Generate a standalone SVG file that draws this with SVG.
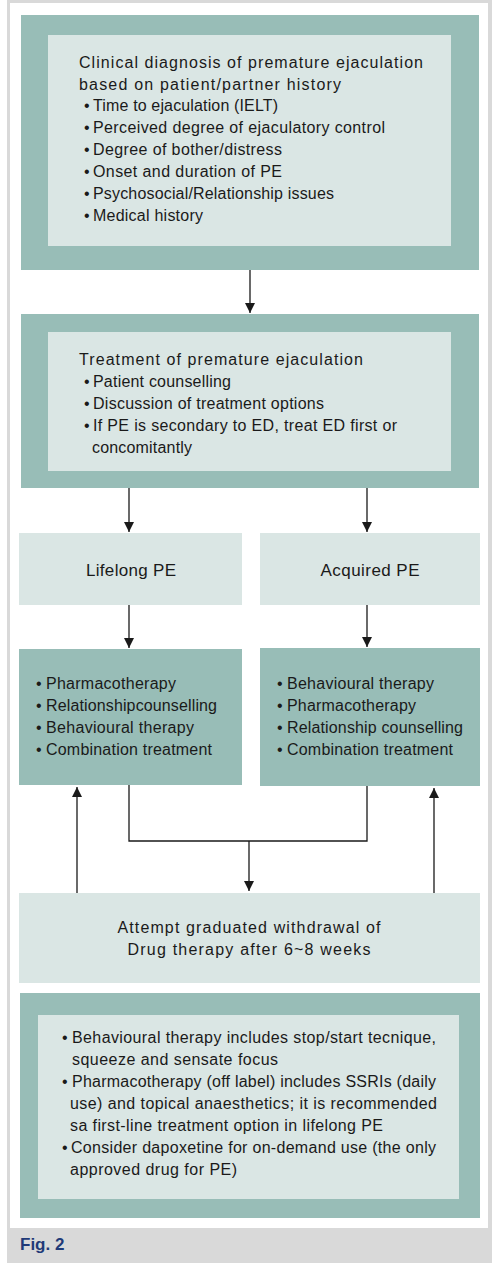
<svg xmlns="http://www.w3.org/2000/svg" width="500" height="1263" viewBox="0 0 500 1263">
<style>
.teal{fill:#98bdb7}
.light{fill:#dae6e4}
.t{font-family:"Liberation Sans",Arial,sans-serif;font-size:16px;fill:#1a1a1a}
.c{text-anchor:middle}
.ln{stroke:#1a1a1a;stroke-width:1.3;fill:none}
.cap{font-family:"Liberation Sans",Arial,sans-serif;font-size:17px;font-weight:bold;fill:#1f3a78}
</style>
<defs>
<marker id="ah" viewBox="0 0 10 10" refX="10" refY="5" markerWidth="10" markerHeight="10" markerUnits="userSpaceOnUse" orient="auto">
<path d="M0,0 L10,5 L0,10 Z" fill="#1a1a1a"/>
</marker>
</defs>
<rect x="0" y="0" width="500" height="1263" fill="#ffffff"/>
<rect x="7" y="0" width="485" height="1263" fill="#d9d9d9"/>
<rect x="10" y="3" width="478" height="1225" fill="#ffffff"/>

<g id="connectors">
<line class="ln" x1="250" y1="270" x2="250" y2="313" marker-end="url(#ah)"/>
<line class="ln" x1="129" y1="488" x2="129" y2="532" marker-end="url(#ah)"/>
<line class="ln" x1="367" y1="488" x2="367" y2="532" marker-end="url(#ah)"/>
<line class="ln" x1="129" y1="605" x2="129" y2="648" marker-end="url(#ah)"/>
<line class="ln" x1="367" y1="605" x2="367" y2="647" marker-end="url(#ah)"/>
<polyline class="ln" points="129,785 129,841 367,841 367,786"/>
<line class="ln" x1="249" y1="841" x2="249" y2="891" marker-end="url(#ah)"/>
<line class="ln" x1="77" y1="893" x2="77" y2="787" marker-end="url(#ah)"/>
<line class="ln" x1="434" y1="893" x2="434" y2="788" marker-end="url(#ah)"/>
</g>

<g id="diagnosis">
<rect class="teal" x="21" y="15" width="458" height="255"/>
<rect class="light" x="48" y="35" width="403" height="211"/>
<text class="t" x="79" y="68" textLength="344">Clinical diagnosis of premature ejaculation</text>
<text class="t" x="79" y="90" textLength="262">based on patient/partner history</text>
<text class="t" x="84" y="111">•</text><text class="t" x="93" y="111" textLength="185">Time to ejaculation (IELT)</text>
<text class="t" x="84" y="133">•</text><text class="t" x="93" y="133" textLength="292">Perceived degree of ejaculatory control</text>
<text class="t" x="84" y="155">•</text><text class="t" x="93" y="155" textLength="189">Degree of bother/distress</text>
<text class="t" x="84" y="177">•</text><text class="t" x="93" y="177" textLength="189">Onset and duration of PE</text>
<text class="t" x="84" y="199">•</text><text class="t" x="93" y="199" textLength="241">Psychosocial/Relationship issues</text>
<text class="t" x="84" y="221">•</text><text class="t" x="93" y="221" textLength="110">Medical history</text>
</g>

<g id="treatment">
<rect class="teal" x="21" y="314" width="458" height="174"/>
<rect class="light" x="48" y="332" width="403" height="139"/>
<text class="t" x="79" y="365" textLength="284">Treatment of premature ejaculation</text>
<text class="t" x="84" y="387">•</text><text class="t" x="93" y="387" textLength="138">Patient counselling</text>
<text class="t" x="84" y="409">•</text><text class="t" x="93" y="409" textLength="231">Discussion of treatment options</text>
<text class="t" x="84" y="431">•</text><text class="t" x="93" y="431" textLength="304">If PE is secondary to ED, treat ED first or</text>
<text class="t" x="92" y="453" textLength="100">concomitantly</text>
</g>

<g id="lifelong">
<rect class="light" x="19" y="533" width="223" height="72"/>
<text class="t c" x="131" y="576" style="font-size:17px" textLength="90">Lifelong PE</text>
</g>

<g id="acquired">
<rect class="light" x="260" y="533" width="220" height="72"/>
<text class="t c" x="370" y="576" style="font-size:17px" textLength="99">Acquired PE</text>
</g>

<g id="lifelong-options">
<rect class="teal" x="19" y="649" width="223" height="136"/>
<text class="t" x="36" y="689">•</text><text class="t" x="46" y="689" textLength="130">Pharmacotherapy</text>
<text class="t" x="36" y="711">•</text><text class="t" x="46" y="711" textLength="171">Relationshipcounselling</text>
<text class="t" x="36" y="733">•</text><text class="t" x="46" y="733" textLength="148">Behavioural therapy</text>
<text class="t" x="36" y="755">•</text><text class="t" x="46" y="755" textLength="166">Combination treatment</text>
</g>

<g id="acquired-options">
<rect class="teal" x="260" y="648" width="220" height="138"/>
<text class="t" x="277" y="689">•</text><text class="t" x="287" y="689" textLength="147">Behavioural therapy</text>
<text class="t" x="277" y="711">•</text><text class="t" x="287" y="711" textLength="129">Pharmacotherapy</text>
<text class="t" x="277" y="733">•</text><text class="t" x="287" y="733" textLength="176">Relationship counselling</text>
<text class="t" x="277" y="755">•</text><text class="t" x="287" y="755" textLength="166">Combination treatment</text>
</g>

<g id="withdrawal">
<rect class="light" x="19" y="893" width="461" height="90"/>
<text class="t c" x="249" y="933" textLength="263">Attempt graduated withdrawal of</text>
<text class="t c" x="249" y="955" textLength="243">Drug therapy after 6~8 weeks</text>
</g>

<g id="notes">
<rect class="teal" x="20" y="993" width="460" height="225"/>
<rect class="light" x="38" y="1015" width="421" height="184"/>
<text class="t" x="62" y="1043">•</text><text class="t" x="72" y="1043" textLength="364">Behavioural therapy includes stop/start tecnique,</text>
<text class="t" x="72" y="1065" textLength="206">squeeze and sensate focus</text>
<text class="t" x="62" y="1087">•</text><text class="t" x="72" y="1087" textLength="364">Pharmacotherapy (off label) includes SSRIs (daily</text>
<text class="t" x="70" y="1109" textLength="367">use) and topical anaesthetics; it is recommended</text>
<text class="t" x="70" y="1131" textLength="313">sa first-line treatment option in lifelong PE</text>
<text class="t" x="62" y="1153">•</text><text class="t" x="71" y="1153" textLength="365">Consider dapoxetine for on-demand use (the only</text>
<text class="t" x="70" y="1175" textLength="167">approved drug for PE)</text>
</g>

<text class="cap" x="20" y="1250">Fig. 2</text>
</svg>
